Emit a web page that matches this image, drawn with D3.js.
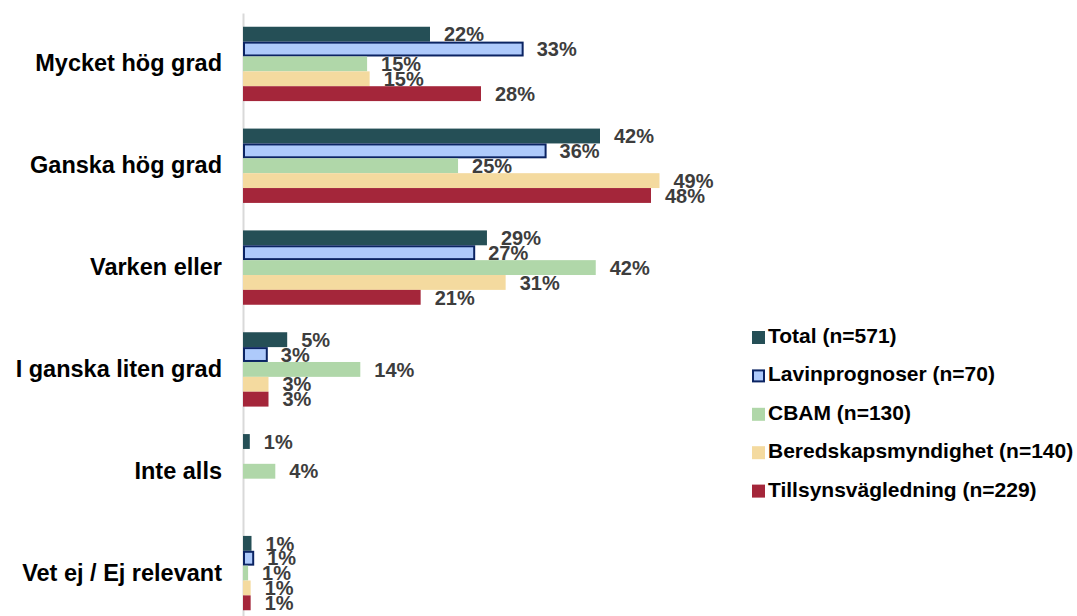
<!DOCTYPE html>
<html>
<head>
<meta charset="utf-8">
<script src="https://cdn.jsdelivr.net/npm/d3@7"></script>
<style>
    html, body { margin: 0; padding: 0; background: #fff; }
    svg { display: block; font-family: "Liberation Sans", Arial, sans-serif; }
</style>
</head>
<body>
<div id="chart"></div>
<script>
"use strict"

// answer categories (top to bottom)
let categories = ["Mycket hög grad", "Ganska hög grad", "Varken eller",
    "I ganska liten grad", "Inte alls", "Vet ej / Ej relevant"];

// respondent groups
let seriesNames = ["Total (n=571)", "Lavinprognoser (n=70)", "CBAM (n=130)",
    "Beredskapsmyndighet (n=140)", "Tillsynsvägledning (n=229)"];

// share in percent, null = no bar
let totalValues = [22, 42, 28.7, 5.2, 0.8, 1.0];
let lavinValues = [32.9, 35.6, 27.2, 2.8, null, 1.2];
let cbamValues = [14.6, 25.3, 41.5, 13.8, 3.8, 0.6];
let beredValues = [14.9, 49, 30.9, 3.0, null, 0.9];
let tillsynValues = [28, 48, 20.9, 3.0, null, 0.9];

let seriesValues = [totalValues, lavinValues, cbamValues, beredValues, tillsynValues];

let seriesColors = ["#254f56", "#aecafb", "#b0d7a9", "#f4da9f", "#a4263a"];
let seriesStroke = [null, "#0b2463", null, null, null];

let width = 1077, height = 616;

let svg = d3.select("#chart").append("svg")
    .attr("width", width)
    .attr("height", height);

let x = d3.scaleLinear()
    .domain([0, 100])
    .range([243, 243 + 850]);

let y0 = d3.scaleBand()
    .domain(categories)
    .range([13, 624])
    .paddingInner(0.27)
    .paddingOuter(0.135);

let y1 = d3.scaleBand()
    .domain(seriesNames)
    .range([0, y0.bandwidth()]);

// category axis
let yAxis = svg.append("g")
    .attr("transform", "translate(" + x(0) + ",0)")
    .call(d3.axisLeft(y0).tickSize(0).tickPadding(21));

yAxis.select(".domain")
    .style("stroke", "#d9d9d9")
    .style("stroke-width", "2px");

yAxis.selectAll("text")
    .style("font-family", "'Liberation Sans', Arial, sans-serif")
    .style("font-size", "23.5px")
    .style("font-weight", "bold")
    .style("fill", "#000");

// bars
seriesNames.forEach(function(name, s) {
    let rows = categories.map(function(c, i) {
        return { cat: c, v: seriesValues[s][i] };
    }).filter(function(d) { return d.v !== null; });

    let g = svg.append("g").attr("class", "series");
    let sw = seriesStroke[s] ? 2 : 0;

    g.selectAll("rect")
        .data(rows)
        .enter().append("rect")
        .attr("x", x(0) + sw / 2)
        .attr("y", function(d) { return y0(d.cat) + y1(name) + sw / 2; })
        .attr("width", function(d) { return x(d.v) - x(0) - sw / 2; })
        .attr("height", y1.bandwidth() - sw)
        .style("fill", seriesColors[s])
        .style("stroke", seriesStroke[s] || "none")
        .style("stroke-width", sw + "px");

    g.selectAll("text")
        .data(rows)
        .enter().append("text")
        .attr("x", function(d) { return x(d.v) + 14; })
        .attr("y", function(d) { return y0(d.cat) + y1(name) + y1.bandwidth() / 2; })
        .attr("dy", "0.36em")
        .style("font-size", "20px")
        .style("font-weight", "bold")
        .style("fill", "#3d3d3d")
        .text(function(d) { return Math.round(d.v) + "%"; });
});

// legend
let legend = svg.append("g")
    .attr("transform", "translate(752,343)");

let legendItem = legend.selectAll("g")
    .data(seriesNames)
    .enter().append("g")
    .attr("transform", function(d, i) { return "translate(0," + (i * 38.4) + ")"; });

legendItem.append("rect")
    .attr("x", function(d, i) { return seriesStroke[i] ? 1 : 0; })
    .attr("y", function(d, i) { return seriesStroke[i] ? -11 : -12; })
    .attr("width", function(d, i) { return seriesStroke[i] ? 11 : 13; })
    .attr("height", function(d, i) { return seriesStroke[i] ? 11 : 13; })
    .style("fill", function(d, i) { return seriesColors[i]; })
    .style("stroke", function(d, i) { return seriesStroke[i] || "none"; })
    .style("stroke-width", "2px");

legendItem.append("text")
    .attr("x", 16)
    .attr("y", 0)
    .style("font-size", "21px")
    .style("font-weight", "bold")
    .style("fill", "#000")
    .text(function(d) { return d; });
</script>
</body>
</html>
